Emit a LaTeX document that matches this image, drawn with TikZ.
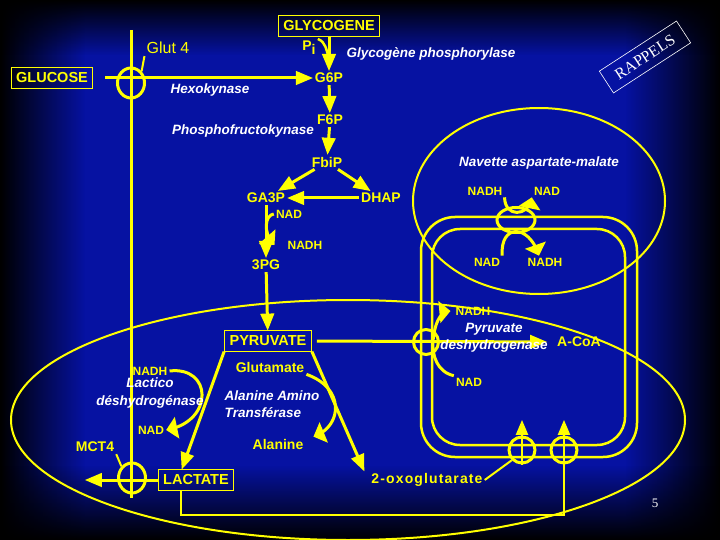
\documentclass[tikz,border=0pt]{standalone}
\usepackage{fontspec}
\setmainfont{Liberation Sans}
\newfontfamily\serifrappel{Liberation Serif}
\usetikzlibrary{shapes,arrows,fadings}
\usetikzlibrary{positioning}

\definecolor{jaune}{RGB}{255,255,0}
\definecolor{fond}{RGB}{6,18,162}
\tikzfading[name=vers droite, left color=transparent!0, right color=transparent!100]
\tikzfading[name=vers gauche, left color=transparent!100, right color=transparent!0]
\tikzfading[name=vers bas, top color=transparent!0, bottom color=transparent!100]
\tikzfading[name=vers haut, top color=transparent!100, bottom color=transparent!0]

\begin{document}
\begin{tikzpicture}[x=1pt,y=-1pt,
    every node/.style = {inner sep=2pt},
    meta/.style   = {text=jaune, font=\bfseries\fontsize{14}{16}\selectfont},
    cofac/.style  = {text=jaune, font=\bfseries\fontsize{12}{14}\selectfont},
    enzyme/.style = {text=white, font=\bfseries\itshape\fontsize{13.5}{17.5}\selectfont,
                     align=center, inner sep=0pt},
    boite/.style  = {meta, font=\bfseries\fontsize{14.5}{16}\selectfont,
                     draw=jaune, line width=1pt, inner sep=5pt},
    voie/.style   = {draw=jaune, line width=3pt, -triangle 45},
    fleche/.style = {draw=jaune, line width=3pt, -triangle 90},
    petite/.style = {draw=jaune, line width=2.5pt, -triangle 45},
    trait/.style  = {draw=jaune, line width=2pt},
    membrane/.style = {draw=jaune, line width=2.5pt},
    porte/.style  = {draw=jaune, line width=3pt, inner sep=0pt}]
\useasboundingbox (0,0) rectangle (720,540);

% fond
\fill[fond] (0,0) rectangle (720,540);
\fill[black, path fading=vers droite] (0,0) rectangle (85,540);
\fill[black, path fading=vers gauche] (625,0) rectangle (720,540);
\fill[black, path fading=vers bas] (0,0) rectangle (720,55);
\fill[black, path fading=vers haut] (0,465) rectangle (720,540);

% membranes
\draw[trait] (348,420) ellipse [x radius=337, y radius=120];
\draw[trait] (539,201) ellipse [x radius=126, y radius=93];
\draw[membrane, rounded corners=34pt] (421,217) rectangle (637,457);
\draw[membrane, rounded corners=28pt] (432,229) rectangle (625,445);
\coordinate (mh) at (131,30);
\coordinate (mb) at (131,498);
\draw[membrane, line width=3pt] (mh) -- (mb);

% metabolites
\node[boite] (glycogene) at (329,26)  {GLYCOGENE};
\node[boite] (glucose)   at (52,78)   {GLUCOSE};
\node[meta]  (g6p)       at (329,78)  {G6P};
\node[meta]  (f6p)       at (330,120) {F6P};
\node[meta]  (fbip)      at (327,162) {FbiP};
\node[meta]  (ga3p)      at (266,198) {GA3P};
\node[meta]  (dhap)      at (381,198) {DHAP};
\node[meta]  (pg3)       at (266,265) {3PG};
\node[boite] (pyruvate)  at (268,341) {PYRUVATE};
\node[boite] (lactate)   at (196,480) {LACTATE};
\node[meta]  (acoa)      at (579,342) {A-CoA};
\node[meta]  (glutamate) at (270,367) {Glutamate};
\node[meta]  (alanine)   at (278,444) {Alanine};
\node[meta]  (oxo)       at (427,480) {\addfontfeature{LetterSpace=8}2-oxoglutarate};
\node[meta]  (mct)       at (95,447)  {MCT4};
\node[meta]  (pi)        at (309,48)  {P\raisebox{-4pt}{i}};
\node[text=jaune, font=\fontsize{16}{18}\selectfont] (glut) at (168,48) {Glut 4};

% cofacteurs
\node[cofac] (nad1)  at (289,214) {NAD};
\node[cofac] (nadh1) at (305,245) {NADH};
\node[cofac] (nadh2) at (150,371) {NADH};
\node[cofac] (nad2)  at (151,430) {NAD};
\node[cofac] (nadh3) at (473,311) {NADH};
\node[cofac] (nad3)  at (469,382) {NAD};
\node[cofac] (nadh4) at (485,191) {NADH};
\node[cofac] (nad4)  at (547,191) {NAD};
\node[cofac] (nad5)  at (487,262) {NAD};
\node[cofac] (nadh5) at (545,262) {NADH};

% transporteurs
\node[porte, ellipse, minimum width=27, minimum height=30] (glut4) at (131,83) {};
\node[porte, ellipse, minimum width=27, minimum height=30] (mct4)  at (132,478) {};
\node[porte, circle, minimum size=25]   (ppdh) at (426,342) {};
\node[porte, ellipse, minimum width=38, minimum height=25] (pnav) at (516,220) {};
\node[porte, circle, minimum size=26]   (poxo) at (522,450) {};
\node[porte, circle, minimum size=26]   (plac) at (564,450) {};

% glycolyse
\coordinate (jonction) at (329,58);
\draw[voie, shorten <=12pt] (glucose) -- (g6p);
\draw[voie] (glycogene) -- (g6p);
\draw[trait, line width=2.5pt] (pi.north east) to[out=-20,in=110] (jonction);
\draw[voie] (g6p) -- (f6p);
\draw[voie] (f6p) -- (fbip);
\draw[voie] (fbip) -- (ga3p);
\draw[voie] (fbip) -- (dhap);
\draw[voie] (dhap) -- (ga3p);
\draw[voie] (ga3p) -- (pg3);
\draw[voie] (pg3) -- (pyruvate);
\draw[fleche] (nad1.west) .. controls (265,215) and (263,232) .. ([xshift=-11pt]nadh1.west);

% devenir du pyruvate
\coordinate (dehors) at (85,480);
\coordinate (coin) at (564,515);
\coordinate (entree1) at (522,420);
\coordinate (entree2) at (564,420);
\draw[voie, shorten <=5pt, shorten >=8pt] (pyruvate.east) -- (acoa.west);
\draw[voie] (pyruvate.south west) -- ([xshift=24pt]lactate.north west);
\draw[voie] (pyruvate.south east) -- ([xshift=-5pt]oxo.north west);
\draw[voie] (lactate.west) -- (dehors);
\draw[petite] ([xshift=-15pt]lactate.south) |- (coin) -- (entree2);
\draw[petite] (poxo.south) -- (entree1);
\draw[trait] (oxo.east) -- (poxo.south west);
\draw[trait] (glut.south west) -- (glut4.north east);
\draw[trait] (mct.south east) -- (mct4.north west);

% cofacteurs
\draw[fleche] (nadh2.east) .. controls (212,366) and (214,420) .. (nad2.east);
\draw[fleche] (glutamate.south east) .. controls (345,388) and (342,425) .. ([xshift=8pt]alanine.north east);
\draw[fleche] (nad3.north west) .. controls (437,372) and (432,355) .. (433,342)
              .. controls (434,325) and (440,312) .. ([xshift=-3pt]nadh3.west);
\draw[fleche] (nadh4.south east) .. controls (505,218) and (528,216) .. (nad4.south west);
\draw[fleche] (nad5.north east) .. controls (500,224) and (528,224) .. ([xshift=-6pt]nadh5.north);

% enzymes
\node[enzyme] (gp)      at (431,54)  {Glycogène phosphorylase};
\node[enzyme] (hexo)    at (210,90)  {Hexokynase};
\node[enzyme] (pfk)     at (243,131) {Phosphofructokynase};
\node[enzyme] (navette) at (539,163) {Navette aspartate-malate};
\node[enzyme] (pdh)     at (494,338) {Pyruvate\\deshydrogenase};
\node[enzyme] (ldh)     at (150,393) {Lactico\\déshydrogénase};
\node[enzyme, align=left] (alat) at (272,404) {Alanine Amino\\Transférase};

\node[draw=white, line width=0.6pt, rotate=33, minimum width=92, minimum height=26,
      text=white, font=\serifrappel\fontsize{16}{18}\selectfont] (rappels) at (645,57) {RAPPELS};
\node[text=white, font=\serifrappel\fontsize{13}{15}\selectfont] (page) at (655,503) {5};
\end{tikzpicture}
\end{document}
